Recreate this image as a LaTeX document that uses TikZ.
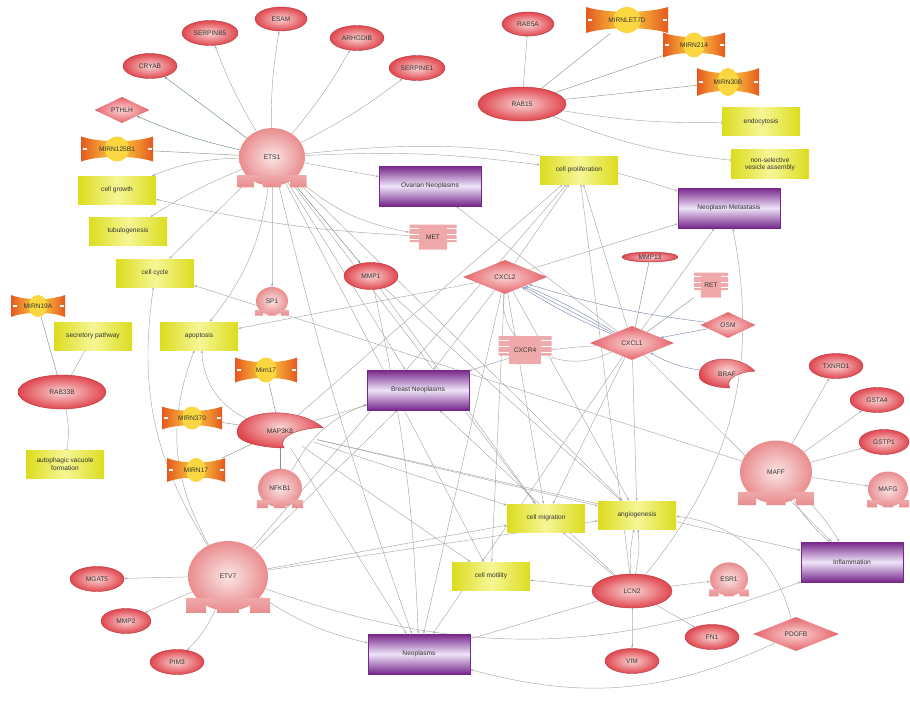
\documentclass[tikz,border=0pt]{standalone}
\usepackage{fontspec}
\setmainfont{Liberation Sans}
\usetikzlibrary{shapes.geometric,arrows.meta,backgrounds}

\definecolor{genered}{RGB}{224,70,78}
\definecolor{genelight}{RGB}{250,212,212}
\definecolor{tfpink}{RGB}{234,140,142}
\definecolor{tflight}{RGB}{250,230,230}
\definecolor{procyel}{RGB}{220,220,30}
\definecolor{proclight}{RGB}{246,246,150}
\definecolor{disdark}{RGB}{118,38,138}
\definecolor{dislight}{RGB}{238,228,248}
\definecolor{mirorange}{RGB}{230,88,32}
\definecolor{miryellow}{RGB}{250,214,64}
\definecolor{linkgray}{RGB}{168,168,168}
\definecolor{linkgreen}{RGB}{104,142,112}
\definecolor{linkblue}{RGB}{128,140,176}

\begin{document}
\begin{tikzpicture}[x=1pt,y=-1pt,
    font=\fontsize{6.6}{7.4}\selectfont,
    every node/.style={text=black!80},
    gene/.style={ellipse,draw=genered!80!black,line width=.4pt,inner color=genelight,outer color=genered,inner sep=0pt},
    dmd/.style={diamond,inner sep=0pt,inner color=genelight,outer color=genered!85},
    tf/.style={ellipse,inner sep=0pt,inner color=tflight,outer color=tfpink},
    tfbase/.style={top color=tfpink!75,bottom color=tfpink},
    kin/.style={draw=genered!80!black,line width=.4pt,inner color=genelight,outer color=genered},
    rcp/.style={fill=tfpink!75},
    mir/.style={left color=mirorange,right color=mirorange,middle color=miryellow},
    proc/.style={rectangle,minimum width=78,minimum height=28,inner sep=1pt,align=center,left color=procyel,right color=procyel,middle color=proclight},
    dis/.style={rectangle,minimum width=102,minimum height=40,draw=disdark,line width=.5pt,top color=disdark,bottom color=disdark,middle color=dislight},
    link/.style={draw=linkgray,line width=.45pt,-{Stealth[length=3pt,width=2.2pt]}},
    glink/.style={link,draw=linkgreen},
    blink/.style={link,draw=linkblue},
    tlink/.style={draw=linkgray,line width=.45pt,-{Bar[width=3.5pt]}},
    mlink/.style={draw=linkgreen!60!linkgray,line width=.45pt}
  ]
  \useasboundingbox (0,0) rectangle (910,706);

  % proteins
  \foreach \n/\x/\y/\w/\h in {SERPINB5/210/33/56/25,ESAM/281/19/52/24,ARHGDIB/357/38/54/25,
      SERPINE1/417/68/56/25,CRYAB/150/66/54/25,RAB5A/528/24/52/24,RAB15/522/104/88/34,
      MMP1/371/276/54/27,MMP13/650/257/56/10,TXNRD1/836/366/54/25,GSTA4/877/400/54/25,
      GSTP1/884/442/50/25,RAB33B/62/392/88/34,MGAT5/97/579/54/25,MMP2/126/621/50/25,
      PIM3/177/662/54/25,LCN2/632/591/80/34,VIM/632/661/54/25,FN1/712/637/54/25}
    \node[gene,minimum width=\w,minimum height=\h] (\n) at (\x,\y) {\n};

  \foreach \n/\x/\y/\w/\h in {PTHLH/122/110/55/26,CXCL2/505/277/84/34,CXCL1/632/343/84/34,
      OSM/728/325/55/26,PDGFB/796/634/86/34}
    \node[dmd,minimum width=\w,minimum height=\h] (\n) at (\x,\y) {\n};

  % receptors
  \foreach \n/\x/\y/\w/\h in {MET/433/237/47/25,CXCR4/525/350/53/28,RET/711/285/34/25} {
    \fill[rcp] ({\x-\w/2},{\y-\h/2}) rectangle ({\x+\w/2},{\y+\h*0.2})
      ({\x-\w*0.3},{\y+\h*0.2}) rectangle ({\x+\w*0.3},{\y+\h/2});
    \foreach \s in {-0.33,-0.12,0.09}
      \draw[white,line width=.6pt] ({\x-\w/2},{\y+\h*\s}) -- ++({\w*0.2},0)
        ({\x+\w/2},{\y+\h*\s}) -- ++({-\w*0.2},0);
    \node[inner sep=0pt,minimum width=\w,minimum height=\h] (\n) at (\x,\y) {\n};
  }

  % transcription factors
  \foreach \n/\x/\y/\r in {ETS1/272/157/33,SP1/272/301/16,NFKB1/280/488/22,ETV7/228/576/40,
      MAFF/776/472/36,MAFG/888/489/20,ESR1/729/579/19} {
    \node[tf,minimum width=2*\r,minimum height=1.75*\r] (\n) at (\x,\y) {\n};
    \path[tfbase] ({\x-1.05*\r},{\y+0.55*\r}) rectangle ({\x+1.05*\r},{\y+0.74*\r})
      ({\x-1.05*\r},{\y+0.7*\r}) rectangle ({\x-0.55*\r},{\y+0.92*\r})
      ({\x-0.27*\r},{\y+0.7*\r}) rectangle ({\x+0.27*\r},{\y+0.92*\r})
      ({\x+0.55*\r},{\y+0.7*\r}) rectangle ({\x+1.05*\r},{\y+0.92*\r});
  }

  % kinases
  \foreach \n/\x/\y/\w/\h in {MAP3K8/280/431/86/34,BRAF/727/374/56/28} {
    \path[kin] ({\x+\w/2},{\y-\h*0.1}) .. controls ({\x+\w*0.2},{\y-\h*0.75}) and ({\x-\w/2},{\y-\h*0.65}) .. ({\x-\w/2},{\y+\h*0.05})
      .. controls ({\x-\w/2},{\y+\h*0.4}) and ({\x-\w*0.1},{\y+\h*0.5}) .. ({\x+\w*0.05},{\y+\h/2})
      .. controls ({\x-\w*0.05},{\y+\h*0.15}) and ({\x+\w*0.25},{\y-\h*0.1}) .. cycle;
    \node[ellipse,inner sep=0pt,minimum width=\w,minimum height=\h] (\n) at (\x,\y) {\n};
  }

  % microRNAs
  \foreach \n/\x/\y/\w/\h in {MIRNLET7D/627/20/82/26,MIRN214/694/45/62/25,MIRN30B/728/82/62/28,
      MIRN125B1/117/149/72/25,MIRN19A/38/306/54/22,Mirn17/266/370/62/25,MIRN370/192/418/60/23,
      MIRN17/196/470/58/24} {
    \path[mir] ({\x-\w/2},{\y-\h/2}) .. controls ({\x-\w/4},{\y-\h/4}) and ({\x+\w/4},{\y-\h/4}) .. ({\x+\w/2},{\y-\h/2})
      -- ({\x+\w/2},{\y+\h/2}) .. controls ({\x+\w/4},{\y+\h/4}) and ({\x-\w/4},{\y+\h/4}) .. ({\x-\w/2},{\y+\h/2}) -- cycle;
    \fill[miryellow] (\x,\y) ellipse ({\w*0.17} and {\h*0.5});
    \draw[white,line width=1.2pt] ({\x-\w/2+1.5},\y) -- ++(4,0) ({\x+\w/2-1.5},\y) -- ++(-4,0);
    \node[inner sep=0pt,minimum width=\w,minimum height=\h] (\n) at (\x,\y) {\n};
  }

  % processes
  \foreach \n/\x/\y/\t in {cgrowth/117/190/cell growth,tubulo/128/231/tubulogenesis,
      ccycle/155/273/cell cycle,secret/93/336/secretory pathway,apopt/199/336/apoptosis,
      autoph/65/464/{autophagic vacuole\\formation},cprolif/579/170/cell proliferation,
      endo/761/122/endocytosis,vesicle/770/164/{non-selective\\vesicle assembly},
      cmigr/546/518/cell migration,angio/637/515/angiogenesis,cmotil/491/576/cell motility}
    \node[proc] (\n) at (\x,\y) {\t};

  % diseases
  \foreach \n/\x/\y/\t in {ovarian/430/186/Ovarian Neoplasms,metast/729/208/Neoplasm Metastasis,
      breast/418/390/Breast Neoplasms,neopl/419/654/Neoplasms,inflam/852/562/Inflammation}
    \node[dis] (\n) at (\x,\y) {\t};

  \begin{scope}[on background layer]
    \foreach \a/\b/\c in {ETS1/SERPINB5/5,ETS1/ESAM/5,ETS1/ARHGDIB/-5,ETS1/SERPINE1/-5,
        ETS1/cgrowth/-10,ETS1/tubulo/-5,ETS1/ccycle/0,ETS1/apopt/15,ETS1/SP1/0,ETS1/MET/-15,
        ETS1/ovarian/0,ETS1/cprolif/5,ETS1/metast/12,ETS1/breast/0,ETS1/neopl/-3,ETS1/cmigr/0,
        ETS1/angio/0,ETS1/cmotil/0,MET/cgrowth/5,MMP1/neopl/5,MMP1/cmigr/0,MMP1/angio/0,
        CXCL2/cprolif/0,CXCL2/metast/0,CXCL2/apopt/0,CXCL2/breast/0,CXCL2/neopl/0,
        CXCL2/cmotil/0,CXCL2/cmigr/0,CXCL2/angio/0,CXCL1/metast/0,CXCL1/cprolif/0,
        CXCL1/ovarian/0,CXCL1/breast/-8,CXCL1/angio/0,CXCL1/cmigr/0,CXCL1/neopl/0,
        CXCL1/inflam/0,MAP3K8/apopt/30,MAP3K8/breast/0,MAP3K8/cmigr/0,MAP3K8/angio/0,
        MAP3K8/inflam/0,MAP3K8/cmotil/0,MAP3K8/neopl/0,MAP3K8/cprolif/0,NFKB1/breast/20,
        MAFF/TXNRD1/0,MAFF/GSTA4/0,MAFF/GSTP1/0,MAFF/MAFG/0,MAFF/inflam/8,MAFF/inflam/-8,
        MAFF/ccycle/0,LCN2/VIM/0,LCN2/FN1/0,LCN2/ESR1/0,LCN2/angio/8,LCN2/angio/-8,
        LCN2/cmigr/0,LCN2/cmotil/0,LCN2/breast/0,LCN2/metast/-25,LCN2/cprolif/0,
        PDGFB/angio/-35,PDGFB/neopl/20,ETV7/MGAT5/0,ETV7/MMP2/0,ETV7/PIM3/10,
        ETV7/ccycle/20,ETV7/apopt/25,ETV7/breast/0,ETV7/cprolif/0,ETV7/neopl/-10,
        ETV7/inflam/-20,ETV7/angio/0,ETV7/cmigr/0}
      \draw[link] (\a) to[bend left=\c] (\b);
    \foreach \a/\b/\c in {ETS1/CRYAB/0,ETS1/PTHLH/5,ETS1/MMP1/0}
      \draw[glink] (\a) to[bend left=\c] (\b);
    \foreach \a/\b/\c in {CXCL1/CXCL2/0,CXCL1/CXCL2/4,CXCL1/CXCL2/-4,OSM/CXCL2/5,
        OSM/CXCL1/0,BRAF/CXCL1/10}
      \draw[blink] (\a) to[bend left=\c] (\b);
    \foreach \a/\b/\c in {RAB15/RAB5A/0,RAB15/endo/-5,RAB15/vesicle/-8,RAB33B/secret/0,
        RAB33B/autoph/10,CXCL2/CXCR4/-20,CXCL1/CXCR4/20,LCN2/neopl/0}
      \draw[tlink] (\a) to[bend left=\c] (\b);
    \foreach \a/\b in {MIRN125B1/ETS1,MIRNLET7D/RAB15,MIRN214/RAB15,MIRN30B/RAB15,
        MIRN19A/RAB33B,Mirn17/MAP3K8,MIRN370/MAP3K8,MIRN17/MAP3K8,MAP3K8/NFKB1,
        MMP13/CXCL1,RET/CXCL1}
      \draw[mlink] (\a) -- (\b);
  \end{scope}
\end{tikzpicture}
\end{document}
